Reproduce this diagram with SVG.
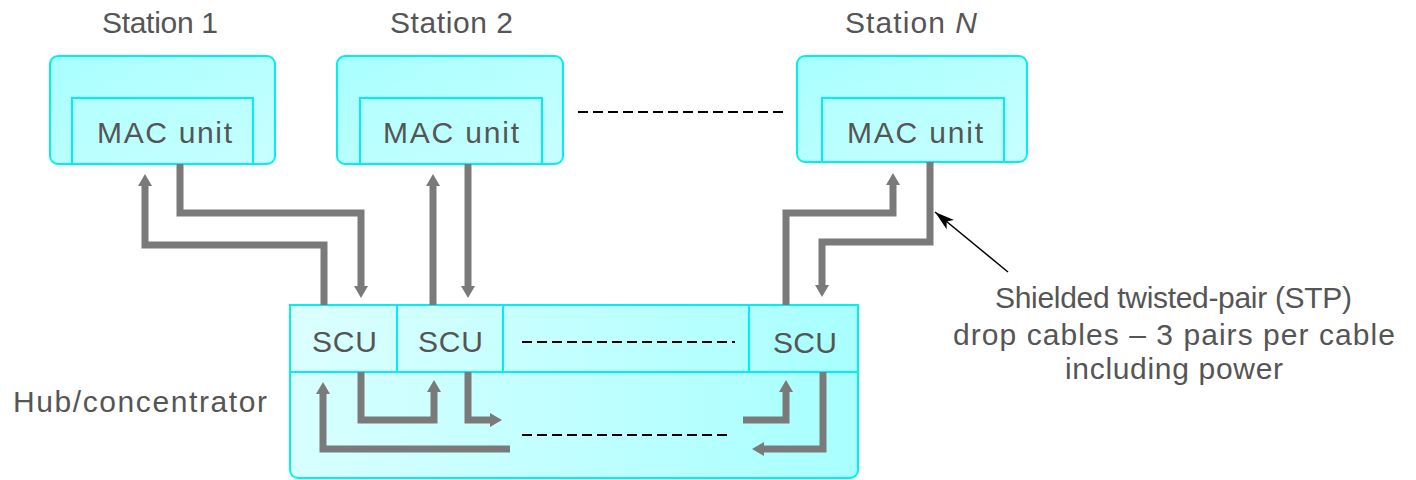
<svg xmlns="http://www.w3.org/2000/svg" width="1416" height="480" viewBox="0 0 1416 480">
  <defs>
    <linearGradient id="gStation" x1="0" y1="0" x2="1" y2="1">
      <stop offset="0" stop-color="#a8ffff"/>
      <stop offset="1" stop-color="#c8ffff"/>
    </linearGradient>
    <linearGradient id="gInner" x1="0" y1="0" x2="1" y2="1">
      <stop offset="0" stop-color="#b4ffff"/>
      <stop offset="1" stop-color="#c4ffff"/>
    </linearGradient>
    <linearGradient id="gHub" x1="0" y1="0" x2="1" y2="0">
      <stop offset="0" stop-color="#d8ffff"/>
      <stop offset="1" stop-color="#a8ffff"/>
    </linearGradient>
    <linearGradient id="gScu" x1="0" y1="0" x2="1" y2="0">
      <stop offset="0" stop-color="#dcffff"/>
      <stop offset="1" stop-color="#a8ffff"/>
    </linearGradient>
    <marker id="cab" viewBox="0 0 12 14" refX="0" refY="7" markerWidth="12" markerHeight="14" markerUnits="userSpaceOnUse" orient="auto">
      <path d="M0,0 L12,7 L0,14 Z" fill="#7a7a7a"/>
    </marker>
    <marker id="blk" viewBox="0 0 20 12" refX="20" refY="6" markerWidth="20" markerHeight="12" markerUnits="userSpaceOnUse" orient="auto">
      <path d="M0,0 L20,6 L0,12 L5,6 Z" fill="#000"/>
    </marker>
  </defs>
  <style>
    .box { stroke: #00f0f0; stroke-width: 2; }
    .t { font-family: "Liberation Sans", Arial, sans-serif; font-size: 30px; fill: #555; }
    .cable { fill: none; stroke: #7a7a7a; stroke-width: 7; stroke-linejoin: miter; marker-end: url(#cab); }
    .dash { stroke: #000; stroke-width: 2; stroke-dasharray: 10 5; fill: none; }
  </style>

  <g id="station1">
    <rect class="box" x="50" y="56" width="225" height="108" rx="8" fill="url(#gStation)"/>
    <rect class="box" x="72" y="98" width="181" height="66" fill="url(#gInner)"/>
    <text class="t" x="102" y="33" textLength="116">Station 1</text>
    <text class="t" x="97" y="143" textLength="135">MAC unit</text>
  </g>

  <g id="station2">
    <rect class="box" x="337" y="56" width="226" height="108" rx="8" fill="url(#gStation)"/>
    <rect class="box" x="360" y="98" width="182" height="66" fill="url(#gInner)"/>
    <text class="t" x="390" y="33" textLength="123">Station 2</text>
    <text class="t" x="383" y="143" textLength="136">MAC unit</text>
  </g>

  <g id="stationN">
    <rect class="box" x="797" y="56" width="230" height="106" rx="8" fill="url(#gStation)"/>
    <rect class="box" x="822" y="98" width="182" height="64" fill="url(#gInner)"/>
    <text class="t" x="845" y="33" textLength="132">Station <tspan font-style="italic">N</tspan></text>
    <text class="t" x="847" y="143" textLength="136">MAC unit</text>
  </g>

  <g id="hub">
    <rect class="box" x="290" y="305" width="568" height="173" rx="8" fill="url(#gHub)"/>
    <rect class="box" x="290" y="305" width="568" height="67" fill="url(#gScu)"/>
    <line class="box" x1="397" y1="305" x2="397" y2="372"/>
    <line class="box" x1="503" y1="305" x2="503" y2="372"/>
    <line class="box" x1="749" y1="305" x2="749" y2="372"/>
    <text class="t" x="312" y="352" textLength="65">SCU</text>
    <text class="t" x="418" y="352" textLength="65">SCU</text>
    <text class="t" x="773" y="353" textLength="64">SCU</text>
    <text class="t" x="13" y="412" textLength="254">Hub/concentrator</text>
  </g>

  <g id="callout">
    <text class="t" x="995" y="308" textLength="357">Shielded twisted-pair (STP)</text>
    <text class="t" x="953" y="345" textLength="442">drop cables – 3 pairs per cable</text>
    <text class="t" x="1065" y="379" textLength="218">including power</text>
  </g>

  <g id="connectors">
    <line class="dash" x1="578" y1="112" x2="785" y2="112"/>
    <line class="dash" x1="522" y1="342" x2="735" y2="342"/>
    <line class="dash" x1="522" y1="435" x2="728" y2="435"/>

    <path class="cable" d="M324,305 V245 H145 V186"/>
    <path class="cable" d="M180,164 V213 H361 V286"/>
    <path class="cable" d="M433,305 V186"/>
    <path class="cable" d="M468,164 V286"/>
    <path class="cable" d="M786,305 V213 H893 V185"/>
    <path class="cable" d="M930,162 V242 H822 V285"/>

    <path class="cable" d="M361,372 V420 H434 V392"/>
    <path class="cable" d="M468,372 V420 H490"/>
    <path class="cable" d="M510,449 H323 V394"/>
    <path class="cable" d="M743,420 H786 V392"/>
    <path class="cable" d="M823,372 V449 H764"/>

    <line x1="1008" y1="272" x2="935" y2="212" stroke="#000" stroke-width="1.5" marker-end="url(#blk)"/>
  </g>
</svg>
